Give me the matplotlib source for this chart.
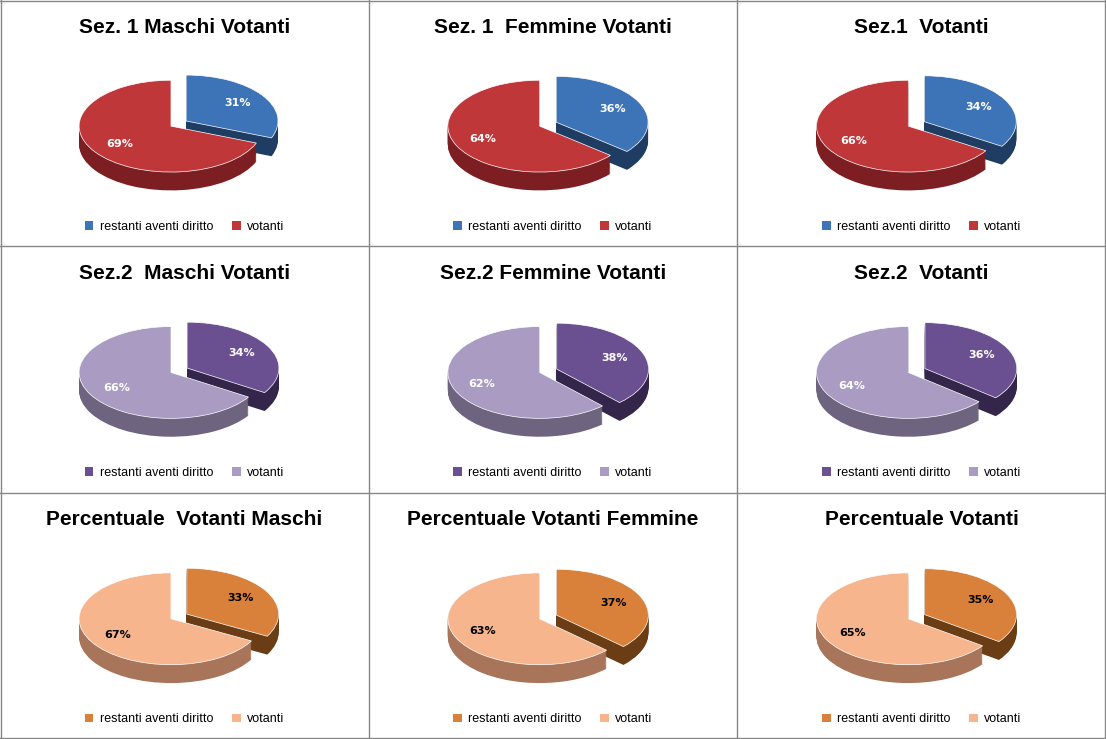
import matplotlib.pyplot as plt
from matplotlib.lines import Line2D
from matplotlib.patches import Patch

titles = ["Sez. 1 Maschi Votanti", "Sez. 1  Femmine Votanti", "Sez.1  Votanti",
          "Sez.2  Maschi Votanti", "Sez.2 Femmine Votanti", "Sez.2  Votanti",
          "Percentuale  Votanti Maschi", "Percentuale Votanti Femmine", "Percentuale Votanti"]
restanti = [31, 36, 34, 34, 38, 36, 33, 37, 35]
votanti = [69, 64, 66, 66, 62, 64, 67, 63, 65]
legend_labels = ["restanti aventi diritto", "votanti"]

# per row: (top restanti, top votanti, side restanti, side votanti, text colour)
row_colors = [
    ("#3d74b8", "#c0373a", "#1f3d63", "#7d1f22", "white"),
    ("#6a5091", "#a99bc1", "#33264a", "#6e6480", "white"),
    ("#d9813a", "#f6b58d", "#6b3d14", "#a8755a", "black"),
]

fig = plt.figure(figsize=(11.06, 7.39), dpi=100)
W, H = 1 / 3, 1 / 3

for i in range(9):
    r, c = divmod(i, 3)
    x0, y0 = c * W, 1 - (r + 1) * H
    top_r, top_v, side_r, side_v, tcol = row_colors[r]

    fig.text(x0 + W / 2, y0 + H * 0.89, titles[i], ha="center", va="center",
             fontsize=15, fontweight="bold", family="Liberation Sans")

    ax = fig.add_axes([x0 + W * 0.14, y0 + H * 0.12, W * 0.66, H * 0.68])
    vals = [restanti[i], votanti[i]]
    explode = [0.2, 0]
    depth = 0.4
    steps = 20
    for k in range(steps, 0, -1):
        ax.pie(vals, startangle=90, counterclock=False, explode=explode,
               center=(0, -depth * k / steps), colors=[side_r, side_v],
               wedgeprops=dict(linewidth=0))
    wedges, _, autotexts = ax.pie(vals, startangle=90, counterclock=False,
                                  explode=explode, colors=[top_r, top_v],
                                  autopct="%d%%", pctdistance=0.68,
                                  wedgeprops=dict(linewidth=0.5, edgecolor="white"),
                                  textprops=dict(color=tcol, fontsize=8, fontweight="bold"))
    ax.set_aspect(0.5)
    ax.set_xlim(-1.3, 1.35)
    ax.set_ylim(-1.5, 1.2)
    ax.axis("off")

    handles = [Patch(facecolor=top_r), Patch(facecolor=top_v)]
    fig.legend(handles, legend_labels, loc="center", ncol=2, frameon=False,
               bbox_to_anchor=(x0 + W / 2, y0 + H * 0.08),
               prop=dict(family="Liberation Sans", size=9),
               handlelength=0.7, handleheight=0.7, columnspacing=1.5, handletextpad=0.5)

# cell borders
for k in range(4):
    v = min(max(k / 3, 0.001), 0.999)
    fig.add_artist(Line2D([v, v], [0, 1], color="#888888", lw=1, transform=fig.transFigure))
    fig.add_artist(Line2D([0, 1], [v, v], color="#888888", lw=1, transform=fig.transFigure))

fig.savefig("out.png", dpi=100)
